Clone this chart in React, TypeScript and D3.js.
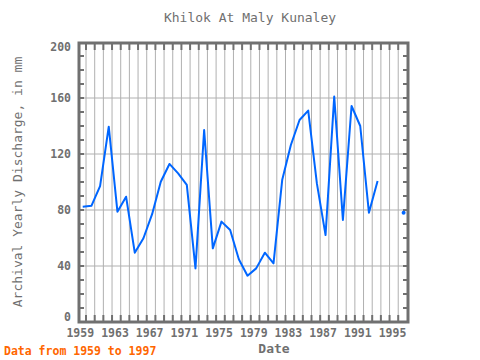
import React, { useEffect, useRef } from 'react';
import * as d3 from 'd3';

const years = [
  1959, 1960, 1961, 1962, 1963, 1964, 1965, 1966, 1967, 1968, 1969, 1970,
  1971, 1972, 1973, 1974, 1975, 1976, 1977, 1978, 1979, 1980, 1981, 1982,
  1983, 1984, 1985, 1986, 1987, 1988, 1989, 1990, 1991, 1992, 1993, 1994,
  1995, 1996,
];
const discharge: (number | null)[] = [
  82.4, 83, 97, 139.5, 78.8, 89.5, 49.5, 59.8, 77, 100.2, 112.9, 106.2,
  97.9, 38.3, 137.1, 52.6, 71.7, 65.7, 44.8, 33.1, 38.3, 49.5, 41.9, 101.4,
  126.4, 144.3, 151, 99, 62.1, 161, 72.9, 154.3, 140, 78.1, 100.7, null,
  null, 78.1,
];
const xTickLabels = [1959, 1963, 1967, 1971, 1975, 1979, 1983, 1987, 1991, 1995];
const yTickLabels = [0, 40, 80, 120, 160, 200];

const W = 480;
const H = 360;
const frameColor = '#707070';
const gridColor = '#b0b0b0';
const lineColor = '#0066ff';
const mono = '"DejaVu Sans Mono", monospace';

const App: React.FC = () => {
  const svgRef = useRef<SVGSVGElement>(null);

  useEffect(() => {
    if (!svgRef.current) return;
    const svg = d3.select(svgRef.current);
    svg.selectAll('*').remove();

    const left = 79, right = 408, top = 43, bottom = 322;

    // x is in fractional years; labels sit on Jan 1, grid a bit later, points ~April
    const x = d3.scaleLinear().domain([1959, 1995]).range([80.3, 392.5]);
    const y = d3.scaleLinear().domain([0, 200]).range([bottom, top - 1]);

    const gridYears = d3.range(1959, 1996).map(v => v + 0.66);

    // vertical grid
    svg.append('g')
      .selectAll('line')
      .data(gridYears)
      .join('line')
      .attr('x1', d => x(d)).attr('x2', d => x(d))
      .attr('y1', top).attr('y2', bottom)
      .attr('stroke', gridColor).attr('stroke-width', 1);

    // horizontal grid
    svg.append('g')
      .selectAll('line')
      .data(yTickLabels.slice(1, -1))
      .join('line')
      .attr('x1', left).attr('x2', right)
      .attr('y1', d => y(d)).attr('y2', d => y(d))
      .attr('stroke', gridColor).attr('stroke-width', 1);

    // ticks on top and bottom
    const tickG = svg.append('g').attr('stroke', frameColor).attr('stroke-width', 2);
    gridYears.forEach(g => {
      tickG.append('line').attr('x1', x(g)).attr('x2', x(g)).attr('y1', top).attr('y2', top + 7);
      tickG.append('line').attr('x1', x(g)).attr('x2', x(g)).attr('y1', bottom).attr('y2', bottom - 7);
    });
    // minor ticks left and right
    d3.range(10, 200, 10).forEach(v => {
      tickG.append('line').attr('x1', left).attr('x2', left + 5).attr('y1', y(v)).attr('y2', y(v));
      tickG.append('line').attr('x1', right).attr('x2', right - 5).attr('y1', y(v)).attr('y2', y(v));
    });

    // frame
    svg.append('rect')
      .attr('x', left).attr('y', top)
      .attr('width', right - left).attr('height', bottom - top)
      .attr('fill', 'none').attr('stroke', frameColor).attr('stroke-width', 3);

    // series
    const pts = years.map((yr, i) => ({ t: yr + 0.28, v: discharge[i] }));
    const line = d3.line<{ t: number; v: number | null }>()
      .defined(d => d.v !== null)
      .x(d => x(d.t))
      .y(d => y(d.v as number));

    svg.append('path')
      .attr('d', line(pts))
      .attr('fill', 'none')
      .attr('stroke', lineColor)
      .attr('stroke-width', 2)
      .attr('stroke-linejoin', 'round');

    // isolated points (no neighbours)
    const lone = pts.filter((d, i) => d.v !== null
      && (i === 0 || pts[i - 1].v === null)
      && (i === pts.length - 1 || pts[i + 1].v === null));
    svg.append('g')
      .selectAll('circle')
      .data(lone)
      .join('circle')
      .attr('cx', d => x(d.t)).attr('cy', d => y(d.v as number))
      .attr('r', 2).attr('fill', lineColor);

    // tick labels
    svg.append('g')
      .selectAll('text')
      .data(xTickLabels)
      .join('text')
      .attr('x', d => x(d)).attr('y', 337)
      .attr('text-anchor', 'middle')
      .attr('font-family', mono).attr('font-size', 11.5).attr('font-weight', 'bold')
      .attr('fill', frameColor)
      .text(d => d);

    // end labels are pulled inside the frame a little
    const labelY = (d: number) => y(d) + 4 + (d === 0 ? -5 : d === 200 ? 5 : 0);
    svg.append('g')
      .selectAll('text')
      .data(yTickLabels)
      .join('text')
      .attr('x', 71).attr('y', labelY)
      .attr('text-anchor', 'end')
      .attr('font-family', mono).attr('font-size', 11.5).attr('font-weight', 'bold')
      .attr('fill', frameColor)
      .text(d => d);

    // titles
    svg.append('text')
      .attr('x', 250).attr('y', 22)
      .attr('text-anchor', 'middle')
      .attr('font-family', mono).attr('font-size', 13)
      .attr('fill', frameColor)
      .text('Khilok At Maly Kunaley');

    svg.append('text')
      .attr('x', 274).attr('y', 353)
      .attr('text-anchor', 'middle')
      .attr('font-family', mono).attr('font-size', 13).attr('font-weight', 'bold')
      .attr('fill', frameColor)
      .text('Date');

    svg.append('text')
      .attr('transform', 'translate(22,182) rotate(-90)')
      .attr('text-anchor', 'middle')
      .attr('font-family', mono).attr('font-size', 13)
      .attr('fill', frameColor)
      .text('Archival Yearly Discharge, in mm');

    svg.append('text')
      .attr('x', 4).attr('y', 355)
      .attr('font-family', mono).attr('font-size', 11.5).attr('font-weight', 'bold')
      .attr('fill', '#ff6600')
      .text('Data from 1959 to 1997');
  }, []);

  return (
    <svg
      ref={svgRef}
      width={W}
      height={H}
      viewBox={`0 0 ${W} ${H}`}
      style={{ position: 'absolute', left: 0, top: 0, background: '#fff' }}
    />
  );
};

export default App;
